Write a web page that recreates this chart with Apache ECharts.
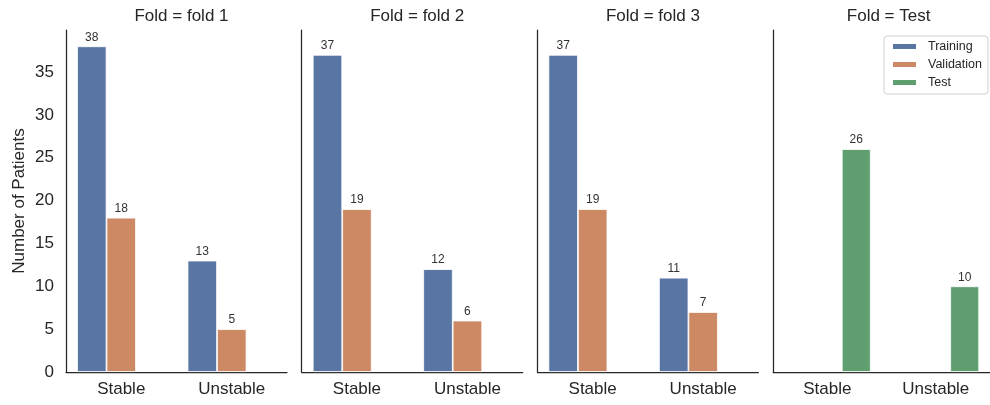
<!DOCTYPE html>
<html>
<head>
<meta charset="utf-8">
<script src="https://cdn.jsdelivr.net/npm/echarts@6/dist/echarts.min.js"></script>
<style>
  html, body { margin: 0; padding: 0; background: #fff; }
  #chart { width: 990px; height: 405px; }
</style>
</head>
<body>
<div id="chart"></div>
<script>
// Patient counts per fold, split by stability class and data subset
const categories = ['Stable', 'Unstable'];
const folds = ['fold 1', 'fold 2', 'fold 3', 'Test'];
const subsets = ['Training', 'Validation', 'Test'];
const trainingCounts = [[38, 13], [37, 12], [37, 11], [null, null]];
const validationCounts = [[18, 5], [19, 6], [19, 7], [null, null]];
const testCounts = [[null, null], [null, null], [null, null], [26, 10]];
const yTicks = [0, 5, 10, 15, 20, 25, 30, 35];

const colors = ['#5875a4', '#cc8963', '#5f9e6e'];
const font = '"Liberation Sans", Arial, sans-serif';
const textColor = '#262626';

const panelLeft = [66, 301.7, 537.4, 773.1];
const panelWidth = 221;
const panelTop = 30;
const panelHeight = 342;

const grids = [], xAxes = [], yAxes = [], titles = [], series = [];
const bySubset = [trainingCounts, validationCounts, testCounts];

folds.forEach((fold, i) => {
  grids.push({ left: panelLeft[i], top: panelTop, width: panelWidth, height: panelHeight });
  titles.push({
    text: 'Fold = ' + fold,
    left: panelLeft[i] + panelWidth / 2,
    top: 3,
    textAlign: 'center',
    textStyle: { fontFamily: font, fontSize: 17, fontWeight: 'normal', color: textColor }
  });
  xAxes.push({
    type: 'category',
    gridIndex: i,
    data: categories,
    axisLine: { lineStyle: { color: textColor, width: 1.25 } },
    axisTick: { show: false },
    axisLabel: { fontFamily: font, fontSize: 17, color: textColor, margin: 9 },
    splitLine: { show: false }
  });
  yAxes.push({
    type: 'value',
    gridIndex: i,
    min: 0,
    max: 39.9,
    interval: 5,
    name: i === 0 ? 'Number of Patients' : '',
    nameLocation: 'middle',
    nameGap: 38,
    nameTextStyle: { fontFamily: font, fontSize: 17, color: textColor },
    axisLine: { show: true, lineStyle: { color: textColor, width: 1.25 } },
    axisTick: { show: false },
    axisLabel: {
      show: i === 0,
      showMaxLabel: false,
      fontFamily: font, fontSize: 17, color: textColor, margin: 12,
      formatter: v => (yTicks.includes(v) ? String(v) : '')
    },
    splitLine: { show: false }
  });
  subsets.forEach((name, s) => {
    series.push({
      type: 'bar',
      name: name,
      xAxisIndex: i,
      yAxisIndex: i,
      data: bySubset[s][i].map(v => (v === null ? '-' : v)),
      barGap: '0%',
      barCategoryGap: '20%',
      itemStyle: { color: colors[s], borderColor: '#fff', borderWidth: 0.8 },
      label: {
        show: true,
        position: 'top',
        distance: 3,
        fontFamily: font,
        fontSize: 12,
        color: '#333'
      }
    });
  });
});

const chart = echarts.init(document.getElementById('chart'), null, { renderer: 'canvas' });
chart.setOption({
  animation: false,
  backgroundColor: '#fff',
  title: titles,
  grid: grids,
  xAxis: xAxes,
  yAxis: yAxes,
  legend: {
    data: subsets,
    orient: 'vertical',
    left: 884,
    top: 36,
    icon: 'rect',
    itemWidth: 25,
    itemHeight: 7,
    itemGap: 3,
    padding: [3, 6, 4, 7],
    borderColor: '#d0d0d0',
    borderWidth: 1,
    borderRadius: 3,
    textStyle: { fontFamily: font, fontSize: 12.5, color: textColor, padding: [0, 0, 0, 6], lineHeight: 15 }
  },
  series: series
});
</script>
</body>
</html>
